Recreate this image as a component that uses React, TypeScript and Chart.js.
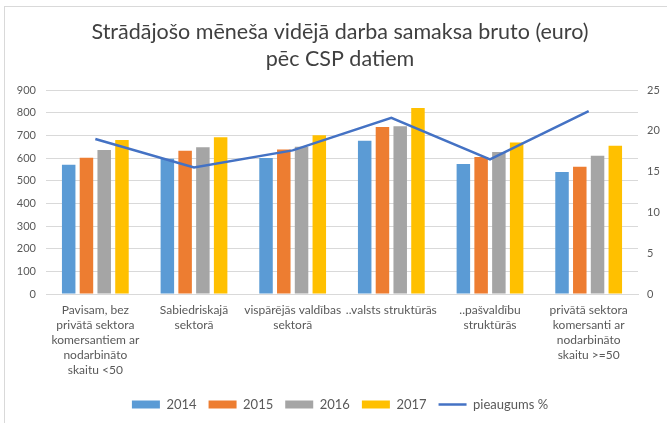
import React, { useEffect, useRef } from "react";
import { Chart, registerables } from "chart.js";

Chart.register(...registerables);

const categories: string[][] = [
  ["Pavisam, bez", "privātā sektora", "komersantiem ar", "nodarbināto", "skaitu <50"],
  ["Sabiedriskajā", "sektorā"],
  ["vispārējās valdības", "sektorā"],
  ["..valsts struktūrās"],
  ["..pašvaldību", "struktūrās"],
  ["privātā sektora", "komersanti ar", "nodarbināto", "skaitu >=50"],
];

const v2014 = [570, 597, 600, 676, 573, 538];
const v2015 = [601, 632, 637, 737, 604, 561];
const v2016 = [635, 647, 650, 740, 626, 610];
const v2017 = [679, 691, 700, 821, 668, 654];
const growth = [19.0, 15.5, 17.6, 21.6, 16.5, 22.4];

const titleLines = ["Strādājošo mēneša vidējā darba samaksa bruto (euro)", "pēc CSP datiem"];

const FONT = "Lato, 'Open Sans', sans-serif";

export default function App() {
  const ref = useRef<HTMLCanvasElement | null>(null);

  useEffect(() => {
    document.body.style.margin = "0";
    const ctx = ref.current!.getContext("2d")!;
    const barCommon = {
      type: "bar" as const,
      yAxisID: "y",
      borderWidth: 0,
      barPercentage: 0.76,
      categoryPercentage: 0.72,
      order: 1,
    };
    const chart = new Chart(ctx, {
      type: "bar",
      data: {
        labels: categories,
        datasets: [
          {
            type: "line",
            label: "pieaugums %",
            data: growth,
            yAxisID: "y1",
            borderColor: "#4472C4",
            backgroundColor: "#4472C4",
            borderWidth: 2.5,
            pointRadius: 0,
            tension: 0,
            order: 0,
          } as any,
          { ...barCommon, label: "2014", data: v2014, backgroundColor: "#5B9BD5" },
          { ...barCommon, label: "2015", data: v2015, backgroundColor: "#ED7D31" },
          { ...barCommon, label: "2016", data: v2016, backgroundColor: "#A5A5A5" },
          { ...barCommon, label: "2017", data: v2017, backgroundColor: "#FFC000" },
        ],
      },
      options: {
        animation: false,
        responsive: false,
        maintainAspectRatio: false,
        layout: { padding: { left: 14, right: 1, top: 0, bottom: 2 } },
        plugins: {
          tooltip: { enabled: false },
          title: {
            display: true,
            text: titleLines,
            color: "#404040",
            font: { family: FONT, size: 21.5, weight: "normal", lineHeight: "27px" },
            padding: { top: 19, bottom: 17 },
          },
          legend: {
            position: "bottom",
            labels: {
              usePointStyle: true,
              pointStyleWidth: 28,
              boxHeight: 8,
              padding: 12,
              color: "#595959",
              font: { family: FONT, size: 13 },
              sort: (a: any, b: any) => {
                const ka = a.datasetIndex === 0 ? 99 : a.datasetIndex;
                const kb = b.datasetIndex === 0 ? 99 : b.datasetIndex;
                return ka - kb;
              },
              generateLabels: (c: any) => {
                const items = Chart.defaults.plugins.legend.labels.generateLabels(c);
                items.forEach((it: any) => {
                  if (it.datasetIndex === 0) {
                    it.pointStyle = "line";
                    it.lineWidth = 2.5;
                    it.strokeStyle = "#4472C4";
                  } else {
                    it.pointStyle = "rect";
                    it.lineWidth = 0;
                  }
                });
                return items;
              },
            },
          },
        },
        scales: {
          x: {
            grid: { display: false, drawTicks: false },
            border: { display: true, color: "#D9D9D9" },
            ticks: {
              color: "#595959",
              font: { family: FONT, size: 12, lineHeight: 1.25 },
              padding: 9,
              maxRotation: 0,
              autoSkip: false,
            },
            afterFit: (s: any) => {
              s.height = 92;
            },
          },
          y: {
            position: "left",
            min: 0,
            max: 900,
            ticks: {
              stepSize: 100,
              color: "#595959",
              font: { family: FONT, size: 11 },
              padding: 10,
            },
            grid: { color: "#D9D9D9", drawTicks: false },
            border: { display: false },
            afterFit: (s: any) => {
              s.width = 32;
            },
          },
          y1: {
            position: "right",
            min: 0,
            max: 25,
            ticks: {
              stepSize: 5,
              color: "#595959",
              font: { family: FONT, size: 11 },
              padding: 9,
            },
            grid: { drawOnChartArea: false, drawTicks: false },
            border: { display: false },
            afterFit: (s: any) => {
              s.width = 28;
            },
          },
        },
      },
    } as any);
    return () => chart.destroy();
  }, []);

  return (
    <div style={{ position: "relative", width: 667, height: 423, overflow: "hidden", background: "#fff" }}>
      <div
        style={{
          position: "absolute",
          left: 4,
          top: 6,
          width: 800,
          height: 600,
          borderLeft: "1.5px solid #D9D9D9",
          borderTop: "1.5px solid #D9D9D9",
          boxSizing: "border-box",
        }}
      />
      <canvas ref={ref} width={667} height={423} style={{ position: "absolute", left: 0, top: 0 }} />
    </div>
  );
}
